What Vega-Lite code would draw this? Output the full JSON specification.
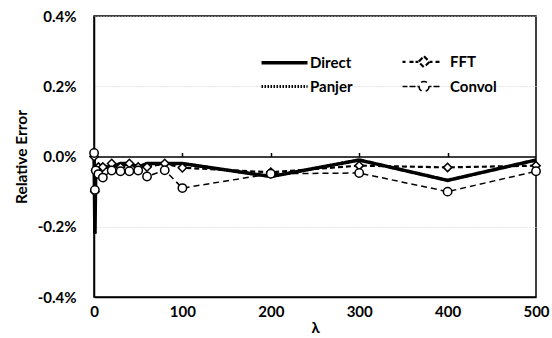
{
  "$schema": "https://vega.github.io/schema/vega-lite/v6.json",
  "width": 442,
  "height": 281,
  "autosize": {"type": "none"},
  "padding": {"left": 94, "top": 16, "right": 16, "bottom": 41},
  "background": "white",
  "config": {
    "font": "Lato",
    "view": {"stroke": "black", "strokeWidth": 1.5},
    "axis": {"labelColor": "black", "titleColor": "black", "labelFont": "Lato", "titleFont": "Lato"}
  },
  "data": {
    "values": [
      {"lambda": 0.1, "series": "Direct", "value": 0.0001},
      {"lambda": 1, "series": "Direct", "value": -0.0022},
      {"lambda": 2, "series": "Direct", "value": -0.0004},
      {"lambda": 5, "series": "Direct", "value": -0.0003},
      {"lambda": 10, "series": "Direct", "value": -0.0003},
      {"lambda": 20, "series": "Direct", "value": -0.0003},
      {"lambda": 30, "series": "Direct", "value": -0.0002},
      {"lambda": 40, "series": "Direct", "value": -0.0002},
      {"lambda": 50, "series": "Direct", "value": -0.0003},
      {"lambda": 60, "series": "Direct", "value": -0.0002},
      {"lambda": 80, "series": "Direct", "value": -0.0002},
      {"lambda": 100, "series": "Direct", "value": -0.0002},
      {"lambda": 200, "series": "Direct", "value": -0.00057},
      {"lambda": 300, "series": "Direct", "value": -0.0001},
      {"lambda": 400, "series": "Direct", "value": -0.00068},
      {"lambda": 500, "series": "Direct", "value": -0.0001},
      {"lambda": 0.1, "series": "Panjer", "value": 0.0001},
      {"lambda": 1, "series": "Panjer", "value": -0.0022},
      {"lambda": 2, "series": "Panjer", "value": -0.0004},
      {"lambda": 5, "series": "Panjer", "value": -0.0003},
      {"lambda": 10, "series": "Panjer", "value": -0.0003},
      {"lambda": 20, "series": "Panjer", "value": -0.0003},
      {"lambda": 30, "series": "Panjer", "value": -0.0002},
      {"lambda": 40, "series": "Panjer", "value": -0.0002},
      {"lambda": 50, "series": "Panjer", "value": -0.0003},
      {"lambda": 60, "series": "Panjer", "value": -0.0002},
      {"lambda": 80, "series": "Panjer", "value": -0.0002},
      {"lambda": 100, "series": "Panjer", "value": -0.0002},
      {"lambda": 200, "series": "Panjer", "value": -0.00057},
      {"lambda": 300, "series": "Panjer", "value": -0.0001},
      {"lambda": 400, "series": "Panjer", "value": -0.00068},
      {"lambda": 500, "series": "Panjer", "value": -0.0001},
      {"lambda": 0.1, "series": "FFT", "value": 0.0},
      {"lambda": 1, "series": "FFT", "value": -0.001},
      {"lambda": 2, "series": "FFT", "value": -0.0004},
      {"lambda": 5, "series": "FFT", "value": -0.0003},
      {"lambda": 10, "series": "FFT", "value": -0.0003},
      {"lambda": 20, "series": "FFT", "value": -0.0002},
      {"lambda": 30, "series": "FFT", "value": -0.0003},
      {"lambda": 40, "series": "FFT", "value": -0.0002},
      {"lambda": 50, "series": "FFT", "value": -0.0003},
      {"lambda": 60, "series": "FFT", "value": -0.0003},
      {"lambda": 80, "series": "FFT", "value": -0.0002},
      {"lambda": 100, "series": "FFT", "value": -0.00032},
      {"lambda": 200, "series": "FFT", "value": -0.00045},
      {"lambda": 300, "series": "FFT", "value": -0.00026},
      {"lambda": 400, "series": "FFT", "value": -0.00031},
      {"lambda": 500, "series": "FFT", "value": -0.00026},
      {"lambda": 0.1, "series": "Convol", "value": 0.0001},
      {"lambda": 1, "series": "Convol", "value": -0.00095},
      {"lambda": 2, "series": "Convol", "value": -0.0004},
      {"lambda": 5, "series": "Convol", "value": -0.0005},
      {"lambda": 10, "series": "Convol", "value": -0.0006},
      {"lambda": 20, "series": "Convol", "value": -0.0004},
      {"lambda": 30, "series": "Convol", "value": -0.00042},
      {"lambda": 40, "series": "Convol", "value": -0.00042},
      {"lambda": 50, "series": "Convol", "value": -0.0004},
      {"lambda": 60, "series": "Convol", "value": -0.00057},
      {"lambda": 80, "series": "Convol", "value": -0.00039},
      {"lambda": 100, "series": "Convol", "value": -0.0009},
      {"lambda": 200, "series": "Convol", "value": -0.00049},
      {"lambda": 300, "series": "Convol", "value": -0.00047},
      {"lambda": 400, "series": "Convol", "value": -0.001},
      {"lambda": 500, "series": "Convol", "value": -0.00042}
    ]
  },
  "resolve": {"axis": {"x": "independent"}},
  "layer": [
    {
      "mark": {"type": "line", "color": "black", "strokeCap": "butt", "strokeJoin": "miter"},
      "encoding": {
        "x": {
          "field": "lambda", "type": "quantitative",
          "scale": {"domain": [0, 500], "nice": false, "zero": false},
          "axis": {
            "orient": "bottom", "values": [0, 100, 200, 300, 400, 500], "grid": false,
            "ticks": false, "domain": true, "domainColor": "black", "domainWidth": 1.5,
            "labelFontSize": 15, "labelFontWeight": "bold", "labelPadding": 7, "labelDx": 3,
            "labelFlush": false, "labelOverlap": false, "labelBound": false,
            "title": "λ", "titleFontSize": 15, "titleFontWeight": "bold", "titlePadding": 1
          }
        },
        "y": {
          "field": "value", "type": "quantitative",
          "scale": {"domain": [-0.004, 0.004], "nice": false},
          "axis": {
            "values": [-0.004, -0.002, 0, 0.002, 0.004],
            "labelExpr": "(datum.value < 0 ? '-' : '') + format(abs(datum.value), '.1%')",
            "grid": true, "gridColor": "#cccccc", "gridDash": [1, 2], "gridWidth": 1,
            "ticks": false, "domain": true, "domainColor": "black", "domainWidth": 1.5,
            "labelFontSize": 15, "labelFontWeight": "bold", "labelPadding": 18,
            "title": "Relative Error", "titleFontSize": 15.5, "titleFontWeight": "bold", "titlePadding": 8
          }
        },
        "strokeDash": {
          "field": "series", "type": "nominal",
          "scale": {"domain": ["Direct", "Panjer", "FFT", "Convol"], "range": [[1, 0], [1.5, 1.5], [5, 3], [6, 4]]},
          "legend": {
            "title": null, "orient": "none", "legendX": 165, "legendY": 38, "columns": 2,
            "symbolSize": 100, "labelOffset": 36, "labelFontSize": 15, "labelFontWeight": "bold",
            "labelColor": "black", "columnPadding": 45, "rowPadding": 6, "symbolStrokeColor": "black",
            "symbolDash": [1, 0],
            "encode": {
              "symbols": {
                "update": {
                  "shape": {"signal": "datum.value === 'Direct' ? 'M-1,0H8.2' : datum.value === 'Panjer' ? 'M-1,0H-0.7M-0.4,0H-0.1M0.2,0H0.5M0.8,0H1.1M1.4,0H1.7M2,0H2.3M2.6,0H2.9M3.2,0H3.5M3.8,0H4.1M4.4,0H4.7M5,0H5.3M5.6,0H5.9M6.2,0H6.5M6.8,0H7.1M7.4,0H7.7M8,0H8.2' : datum.value === 'FFT' ? 'M-0.8,0H-0.2M0.6,0H1.4M1.8,0H2.4M3.5,-1.1L4.6,0L3.5,1.1L2.4,0ZM4.6,0H5.2M5.8,0H6.6' : 'M-0.8,0H0.2M0.6,0H1.8M2.2,0H2.5M4.5,0A1,1 0 1,1 2.5,0A1,1 0 1,1 4.5,0ZM4.5,0H5M5.4,0H6.8'"},
                  "strokeDash": {"value": [1, 0]},
                  "strokeWidth": {"signal": "datum.value === 'Direct' ? 3.5 : 1.5"},
                  "fill": {"value": "white"},
                  "stroke": {"value": "black"},
                  "opacity": {"value": 1}
                }
              }
            }
          }
        },
        "strokeWidth": {
          "field": "series", "type": "nominal",
          "scale": {"domain": ["Direct", "Panjer", "FFT", "Convol"], "range": [3.5, 1.5, 1.2, 1.8]},
          "legend": null
        }
      }
    },
    {
      "transform": [{"filter": "datum.series === 'FFT' || datum.series === 'Convol'"}],
      "mark": {"type": "point", "filled": true, "fill": "white", "stroke": "black", "strokeWidth": 1.5, "size": 70, "opacity": 1},
      "encoding": {
        "x": {
          "field": "lambda", "type": "quantitative",
          "axis": {
            "orient": "top", "offset": -140.5, "values": [100, 200, 300, 400], "labels": false,
            "ticks": true, "tickSize": 4, "tickColor": "black", "tickWidth": 1.5,
            "domain": true, "domainColor": "black", "domainWidth": 1.5, "grid": false, "title": null
          }
        },
        "y": {"field": "value", "type": "quantitative"},
        "shape": {
          "field": "series", "type": "nominal",
          "scale": {"domain": ["FFT", "Convol"], "range": ["diamond", "circle"]},
          "legend": null
        }
      }
    }
  ]
}
